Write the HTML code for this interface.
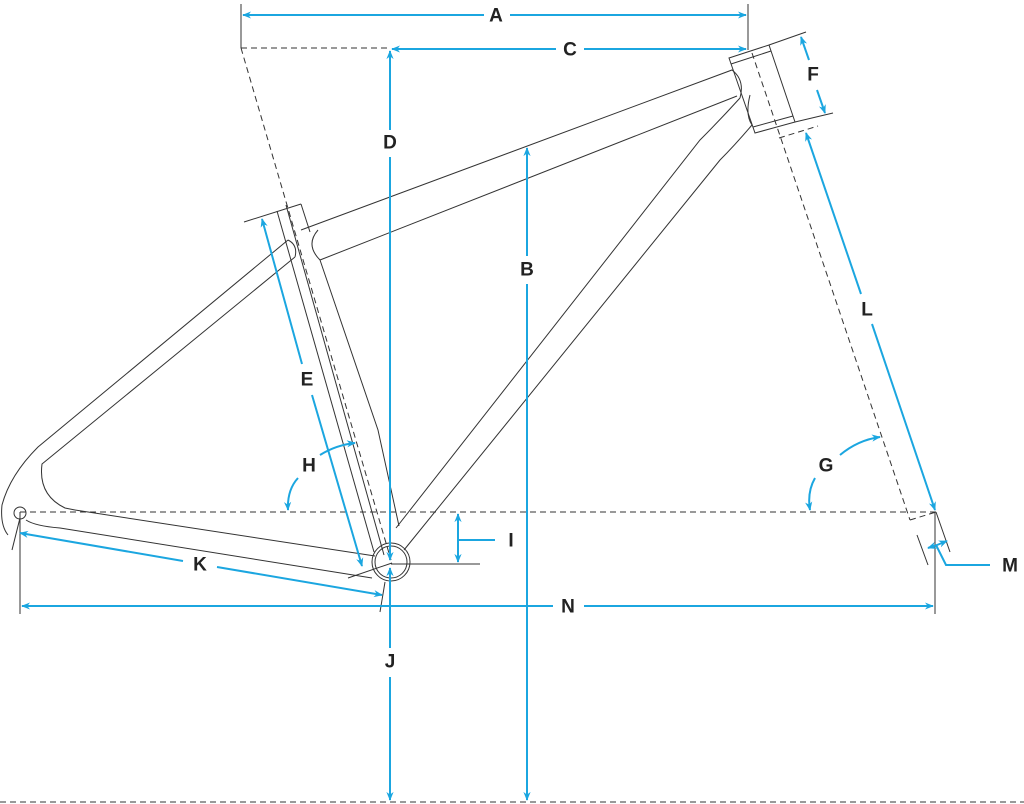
<!DOCTYPE html>
<html><head><meta charset="utf-8"><style>
html,body{margin:0;padding:0;background:#fff;}
svg{display:block;}
text{font-family:"Liberation Sans",sans-serif;font-weight:bold;font-size:19px;fill:#222;text-anchor:middle;dominant-baseline:central;}
</style></head><body>
<svg width="1024" height="804" viewBox="0 0 1024 804" xmlns="http://www.w3.org/2000/svg">
<defs>
<marker id="ar" viewBox="0 0 10 10" refX="9" refY="5" markerWidth="9" markerHeight="9" markerUnits="userSpaceOnUse" orient="auto-start-reverse"><path d="M0,1 L10,5 L0,9 L3,5z" fill="#1ba6e0"/></marker>
</defs>
<g fill="none" stroke="#333" stroke-width="1">
<line x1="241" y1="4" x2="241" y2="48"/>
<line x1="748" y1="4" x2="748" y2="50"/>
<line x1="20" y1="512" x2="20" y2="614"/>
<line x1="935" y1="512" x2="935" y2="614"/>
<g stroke-dasharray="6,4">
<line x1="241" y1="48" x2="390" y2="48"/>
<line x1="241" y1="48" x2="391" y2="560"/>
<line x1="20" y1="512" x2="940" y2="512"/>
<line x1="752" y1="53" x2="910" y2="520"/>
<line x1="910" y1="520" x2="936" y2="512"/>
<line x1="779" y1="138" x2="818" y2="126"/>
<line x1="0" y1="802" x2="1024" y2="802"/>
</g>
<path d="M729,58 L769,45 L795,122 L755,133 Z"/>
<line x1="731" y1="64" x2="771" y2="51"/>
<line x1="753" y1="127" x2="793" y2="116"/>
<line x1="769" y1="45" x2="806" y2="32"/>
<line x1="795" y1="122" x2="833" y2="113"/>
<line x1="917" y1="535" x2="928" y2="565"/>
<line x1="936" y1="512" x2="950" y2="552"/>
<path d="M301,230 L732,70 Q745,80 740,98"/>
<path d="M320,260 L737,96"/>
<path d="M318,230 Q305,245 320,260"/>
<path d="M740,98 Q720,120 700,140 L396,528"/>
<path d="M750,95 Q745,115 752,125 Q735,145 720,160 L404,550"/>
<line x1="244" y1="222" x2="301" y2="204"/>
<line x1="277" y1="211" x2="374" y2="552"/>
<path d="M301,204 L310,232 M320,260 L378,430 L399,526"/>
<line x1="286" y1="205" x2="384" y2="555"/>
<path d="M288,240 L38,447 Q10,475 2,505 Q0,525 8,535"/>
<path d="M295,257 L42,464 Q38,495 65,508 L75,510"/>
<path d="M288,240 Q298,245 295,257"/>
<path d="M75,510 L375,556"/>
<path d="M26,520 Q35,526 60,528 L372,578"/>
<circle cx="20" cy="513" r="6"/>
<line x1="20" y1="518" x2="12" y2="550"/>
<circle cx="391" cy="562" r="19"/>
<circle cx="391" cy="562" r="16"/>
<line x1="391" y1="564" x2="480" y2="564"/>
<line x1="348" y1="578" x2="392" y2="563"/>
<line x1="385" y1="582" x2="380" y2="612"/>
</g>
<g fill="none" stroke="#1ba6e0" stroke-width="2">
<line x1="243" y1="15" x2="484" y2="15" marker-start="url(#ar)"/>
<line x1="510" y1="15" x2="746" y2="15" marker-end="url(#ar)"/>
<line x1="392" y1="49" x2="556" y2="49" marker-start="url(#ar)"/>
<line x1="584" y1="49" x2="746" y2="49" marker-end="url(#ar)"/>
<line x1="390" y1="51" x2="390" y2="130" marker-start="url(#ar)"/>
<line x1="390" y1="157" x2="390" y2="560" marker-end="url(#ar)"/>
<line x1="390" y1="568" x2="390" y2="648" marker-start="url(#ar)"/>
<line x1="390" y1="677" x2="390" y2="800" marker-end="url(#ar)"/>
<line x1="527" y1="148" x2="527" y2="256" marker-start="url(#ar)"/>
<line x1="527" y1="284" x2="527" y2="800" marker-end="url(#ar)"/>
<line x1="801" y1="37" x2="809" y2="60" marker-start="url(#ar)"/>
<line x1="817" y1="90" x2="825" y2="113" marker-end="url(#ar)"/>
<line x1="806" y1="133" x2="861" y2="294" marker-start="url(#ar)"/>
<line x1="872" y1="324" x2="935" y2="510" marker-end="url(#ar)"/>
<line x1="262" y1="219" x2="302" y2="364" marker-start="url(#ar)"/>
<line x1="312" y1="395" x2="362" y2="566" marker-end="url(#ar)"/>
<line x1="20" y1="533" x2="183" y2="561" marker-start="url(#ar)"/>
<line x1="217" y1="567" x2="382" y2="595" marker-end="url(#ar)"/>
<line x1="22" y1="606" x2="553" y2="606" marker-start="url(#ar)"/>
<line x1="584" y1="606" x2="933" y2="606" marker-end="url(#ar)"/>
<line x1="458" y1="514" x2="458" y2="562" marker-start="url(#ar)" marker-end="url(#ar)"/>
<line x1="458" y1="540" x2="495" y2="540"/>
<path d="M298,478 Q287,490 288,510" marker-end="url(#ar)"/>
<path d="M320,455 Q336,445 355,443" marker-end="url(#ar)"/>
<path d="M815,478 Q807,492 810,510" marker-end="url(#ar)"/>
<path d="M840,455 Q858,440 880,437" marker-end="url(#ar)"/>
<line x1="937" y1="545" x2="928" y2="548" marker-end="url(#ar)"/>
<line x1="937" y1="545" x2="947" y2="541" marker-end="url(#ar)"/>
<path d="M936,545 L946,565 L990,565"/>
</g>
<text x="496" y="16">A</text>
<text x="570" y="50">C</text>
<text x="390" y="143">D</text>
<text x="527" y="270">B</text>
<text x="813" y="75">F</text>
<text x="867" y="310">L</text>
<text x="307" y="380">E</text>
<text x="309" y="466">H</text>
<text x="826" y="466">G</text>
<text x="511" y="541">I</text>
<text x="200" y="565">K</text>
<text x="568" y="607">N</text>
<text x="390" y="662">J</text>
<text x="1010" y="566">M</text>
</svg>
</body></html>
